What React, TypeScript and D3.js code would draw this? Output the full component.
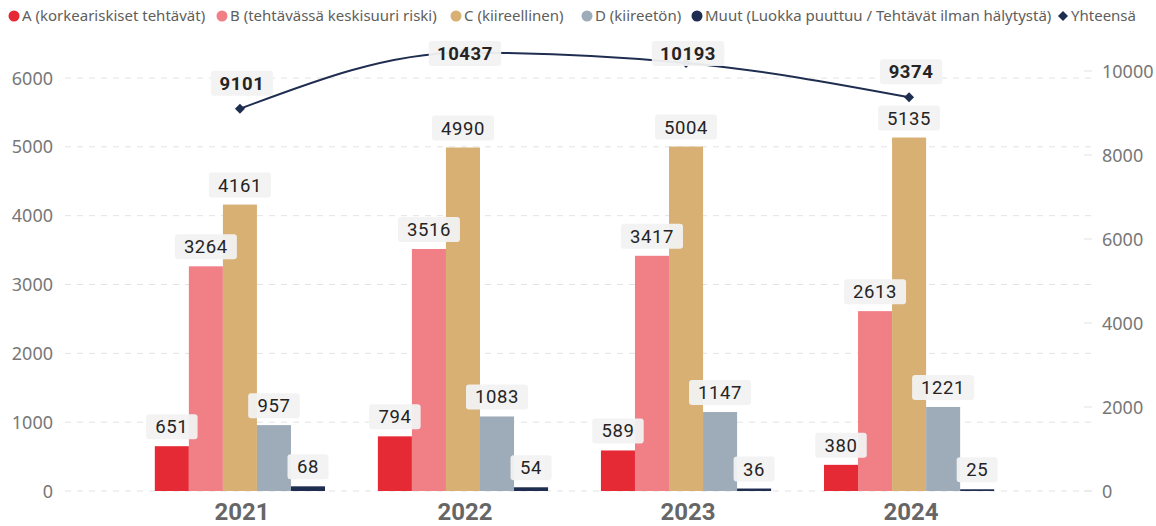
import React from "react";
import * as d3 from "d3";

const years = ["2021", "2022", "2023", "2024"];
const seriesNames = [
  "A (korkeariskiset tehtävät)",
  "B (tehtävässä keskisuuri riski)",
  "C (kiireellinen)",
  "D (kiireetön)",
  "Muut (Luokka puuttuu / Tehtävät ilman hälytystä)",
];
const seriesColors = ["#E52A36", "#F07F86", "#D8B073", "#9EABB8", "#1F2D50"];
const valuesA = [651, 794, 589, 380];
const valuesB = [3264, 3516, 3417, 2613];
const valuesC = [4161, 4990, 5004, 5135];
const valuesD = [957, 1083, 1147, 1221];
const valuesMuut = [68, 54, 36, 25];
const totals = [9101, 10437, 10193, 9374];
const totalName = "Yhteensä";
const lineColor = "#1F2D50";
const leftTicks = [0, 1000, 2000, 3000, 4000, 5000, 6000];
const rightTicks = [0, 2000, 4000, 6000, 8000, 10000];

const allSeries = [valuesA, valuesB, valuesC, valuesD, valuesMuut];

const legendX = [14, 222, 456, 587, 697, 1063];

export default function App() {
  const W = 1156;
  const H = 526;
  const x = d3.scaleBand().domain(years).range([128.5, 1020.5]).paddingInner(0.237).paddingOuter(0.118);
  const xs = d3.scaleBand().domain(seriesNames).range([0, x.bandwidth()]);
  const yL = d3.scaleLinear().domain([0, 6000]).range([491, 78]);
  const yR = d3.scaleLinear().domain([0, 10000]).range([491, 71]);

  const lineGen = d3
    .line<number>()
    .x((_, i) => (x(years[i]) as number) + x.bandwidth() / 2)
    .y((d) => yR(d))
    .curve(d3.curveMonotoneX);

  const labelFont = "Roboto, 'DejaVu Sans', sans-serif";
  const axisFont = "'Noto Sans', 'Open Sans', sans-serif";
  const boxW = (s: string) => s.length * 10.5 + 20;

  const renderLabel = (cx: number, bottom: number, text: string, bold: boolean, key: string) => {
    const w = boxW(text);
    const h = 25;
    return (
      <g key={key}>
        <rect x={cx - w / 2} y={bottom - h} width={w} height={h} rx={3} fill="#F2F2F2" fillOpacity={0.95} />
        <text
          x={cx}
          y={bottom - h / 2 + 6.5}
          textAnchor="middle"
          fontFamily={labelFont}
          fontSize={18.5}
          fontWeight={bold ? 700 : 400}
          fill="#252423"
          letterSpacing={0.6}
        >
          {text}
        </text>
      </g>
    );
  };

  return (
    <svg width={W} height={H} style={{ position: "absolute", left: 0, top: 0, background: "#fff" }}>
      {/* Legend */}
      <g fontFamily={axisFont} fontSize={15} fill="#605E5C">
        {seriesNames.map((n, i) => (
          <g key={n}>
            <circle cx={legendX[i]} cy={16} r={5.5} fill={seriesColors[i]} />
            <text x={legendX[i] + 8} y={21}>{n}</text>
          </g>
        ))}
        <path
          d={`M${legendX[5]},${11} L${legendX[5] + 5},${16} L${legendX[5]},${21} L${legendX[5] - 5},${16} Z`}
          fill={lineColor}
        />
        <text x={legendX[5] + 8} y={21}>{totalName}</text>
      </g>

      {/* Gridlines */}
      {leftTicks.map((t) => (
        <line key={"g" + t} x1={65} x2={1092} y1={yL(t)} y2={yL(t)} stroke="#E3E3E3" strokeDasharray="6,6" />
      ))}
      {rightTicks.map((t) => (
        <line key={"gr" + t} x1={1084} x2={1092} y1={yR(t)} y2={yR(t)} stroke="#E3E3E3" />
      ))}

      {/* Axes labels */}
      <g fontFamily={axisFont} fontSize={18} fill="#777">
        {leftTicks.map((t) => (
          <text key={"l" + t} x={53} y={yL(t) + 6.5} textAnchor="end">{t}</text>
        ))}
        {rightTicks.map((t) => (
          <text key={"r" + t} x={1102} y={yR(t) + 6.5} textAnchor="start">{t}</text>
        ))}
      </g>

      {/* Bars */}
      {years.map((yr, yi) => (
        <g key={yr} transform={`translate(${x(yr)},0)`}>
          {allSeries.map((vals, si) => (
            <rect
              key={si}
              x={xs(seriesNames[si])}
              y={yL(vals[yi])}
              width={xs.bandwidth()}
              height={yL(0) - yL(vals[yi])}
              fill={seriesColors[si]}
            />
          ))}
        </g>
      ))}

      {/* Year labels */}
      <g fontFamily={labelFont} fontSize={24} fontWeight={700} fill="#666">
        {years.map((yr) => (
          <text key={yr} x={(x(yr) as number) + x.bandwidth() / 2 + 2} y={520} textAnchor="middle">{yr}</text>
        ))}
      </g>

      {/* Bar labels */}
      {years.map((yr, yi) =>
        allSeries.map((vals, si) =>
          renderLabel(
            (x(yr) as number) + (xs(seriesNames[si]) as number) + xs.bandwidth() / 2,
            yL(vals[yi]) - 7,
            String(vals[yi]),
            false,
            yr + "-" + si
          )
        )
      )}

      {/* Total line */}
      <path d={lineGen(totals) || ""} fill="none" stroke={lineColor} strokeWidth={2} />
      {totals.map((v, i) => {
        const cx = (x(years[i]) as number) + x.bandwidth() / 2;
        const cy = yR(v);
        return (
          <path key={"m" + i} d={`M${cx},${cy - 5} L${cx + 5},${cy} L${cx},${cy + 5} L${cx - 5},${cy} Z`} fill={lineColor} />
        );
      })}
      {totals.map((v, i) => {
        const cx = (x(years[i]) as number) + x.bandwidth() / 2;
        const bottom = Math.max(yR(v) - 13, 66);
        return renderLabel(cx + 2, bottom, String(v), true, "t" + i);
      })}
    </svg>
  );
}
